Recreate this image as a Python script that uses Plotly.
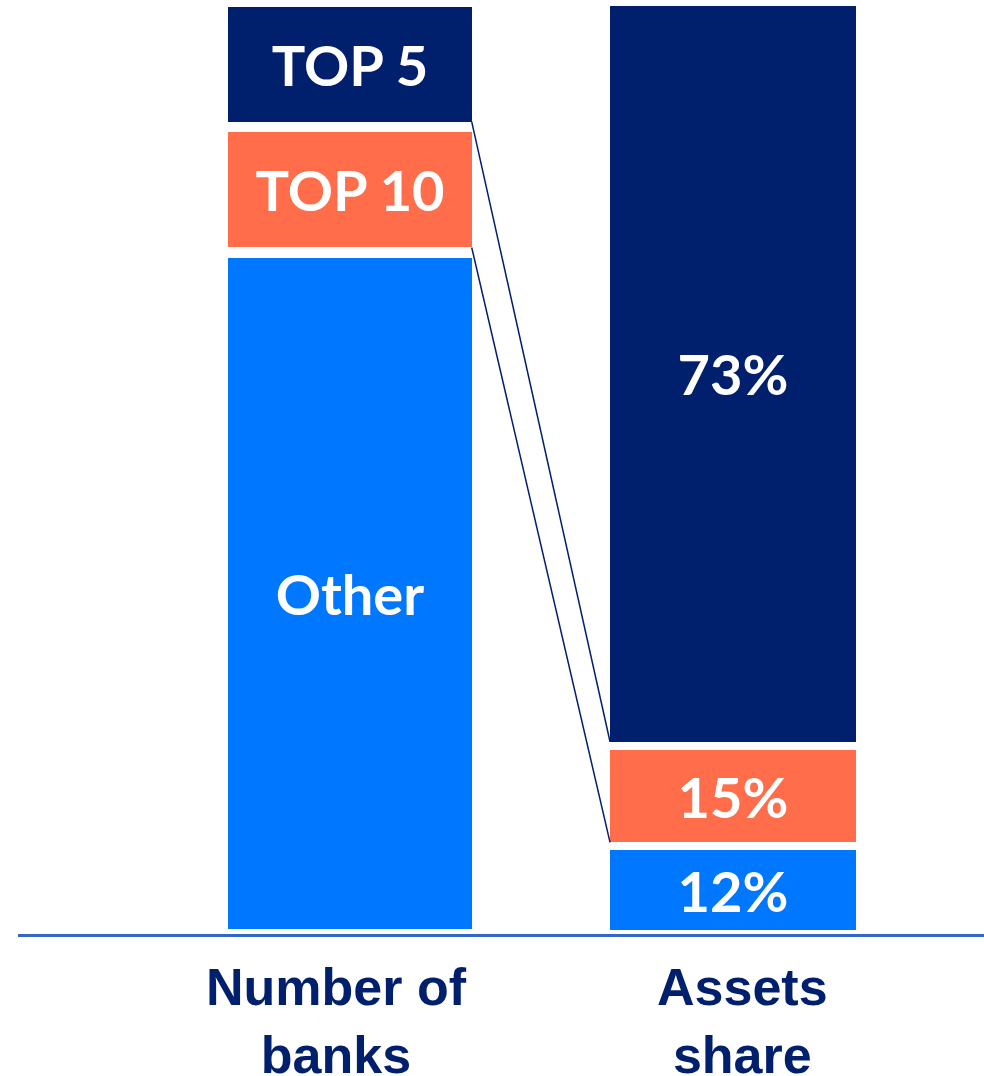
import plotly.graph_objects as go

# ---- data ----
categories = ["Number of banks", "Assets share"]
x_labels = ["Number of<br>banks", "Assets<br>share"]
series_names = ["Other", "TOP 10", "TOP 5"]
# visual segment sizes (share of total, %)
other_vals = [73.1, 9.4]
top10_vals = [13.5, 10.8]
top5_vals = [13.4, 79.8]
other_text = ["Other", "12%"]
top10_text = ["TOP 10", "15%"]
top5_text = ["TOP 5", "73%"]
colors = {"Other": "#0077FF", "TOP 10": "#FF6D4A", "TOP 5": "#001F6C"}

NAVY = "#001F6C"
BAR_W = 0.663
GAP_PX = [10.5, 8]

xpos = [0, 1]
fig = go.Figure()
for name, vals, txt in [("Other", other_vals, other_text),
                        ("TOP 10", top10_vals, top10_text),
                        ("TOP 5", top5_vals, top5_text)]:
    fig.add_trace(go.Bar(
        x=xpos, y=vals, name=name, text=txt,
        width=BAR_W,
        marker=dict(color=colors[name], line=dict(color="white", width=GAP_PX)),
        textposition="inside", insidetextanchor="middle", textangle=0,
        constraintext="none",
        textfont=dict(family="Lato", size=56, color="white", weight="bold"),
        hoverinfo="skip",
    ))

# connector lines between the bars (computed from cumulative data)
px_per_x = 383.0
px_per_y = 932 / 100.0
inset_x = [GAP_PX[0] / 2 / px_per_x, GAP_PX[1] / 2 / px_per_x]
left_b1 = other_vals[0] + top10_vals[0]   # TOP10 / TOP5 boundary
left_b2 = other_vals[0]                   # Other / TOP10 boundary
right_b1 = other_vals[1] + top10_vals[1]
right_b2 = other_vals[1]
for (yl, yr) in [(left_b1, right_b1), (left_b2, right_b2)]:
    fig.add_shape(type="line", xref="x", yref="y",
                  x0=xpos[0] + BAR_W / 2 - inset_x[0],
                  y0=yl + GAP_PX[0] / 2 / px_per_y,
                  x1=xpos[1] - BAR_W / 2 + inset_x[1],
                  y1=yr + GAP_PX[1] / 2 / px_per_y,
                  line=dict(color=NAVY, width=1.5), layer="above")

# category labels
shifts = [-14, 9]
for xp, lab, sh in zip(xpos, x_labels, shifts):
    fig.add_annotation(x=xp, y=0, xref="x", yref="paper", text=lab,
                       showarrow=False, xshift=sh, yanchor="top", yshift=-22,
                       font=dict(family="Liberation Sans, Arial", size=52,
                                 color=NAVY, weight="bold"))

fig.update_layout(
    barmode="stack", width=984, height=1076,
    margin=dict(l=18, r=0, t=2, b=142),
    paper_bgcolor="white", plot_bgcolor="white",
    showlegend=False,
    xaxis=dict(range=[-332 / 383, 634 / 383], showticklabels=False,
               showgrid=False, zeroline=False, showline=True,
               linecolor="#3366CC", linewidth=3, ticks=""),
    yaxis=dict(range=[0, 100], visible=False, showgrid=False, zeroline=False),
)

fig.write_html("out.html",
               config={"displayModeBar": False},
               post_script="document.body.style.margin='0';document.body.style.overflow='hidden';")
